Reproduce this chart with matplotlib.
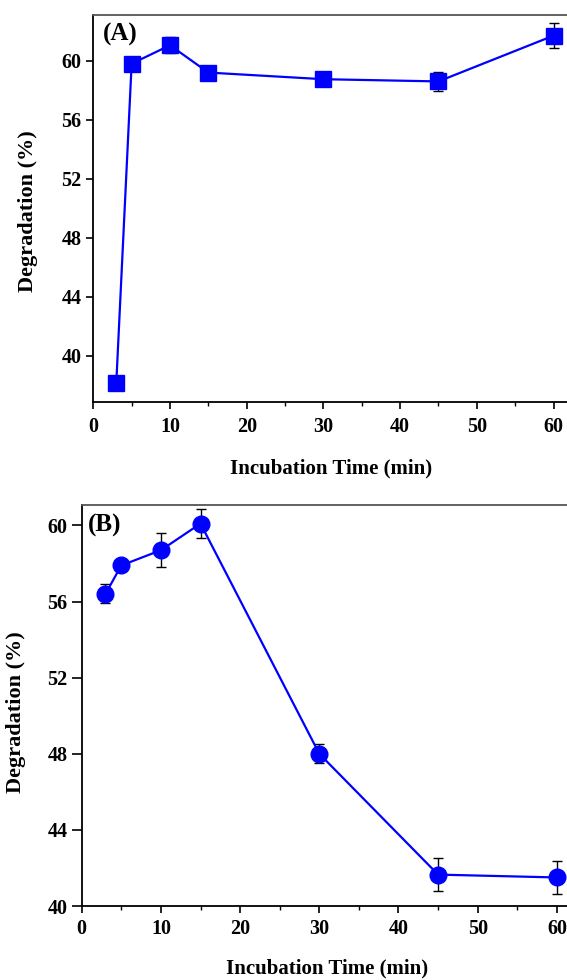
import matplotlib
matplotlib.use("Agg")
import matplotlib.pyplot as plt
from matplotlib.ticker import MultipleLocator

plt.rcParams['font.family'] = ['Liberation Serif', 'DejaVu Serif']
plt.rcParams['font.weight'] = 'bold'

time_a = [3, 5, 10, 15, 30, 45, 60]
deg_a = [38.2, 59.8, 61.05, 59.2, 58.75, 58.6, 61.7]
err_a = [0.45, 0.35, 0.55, 0.4, 0.3, 0.65, 0.85]

time_b = [3, 5, 10, 15, 30, 45, 60]
deg_b = [56.4, 57.9, 58.7, 60.1, 48.0, 41.65, 41.5]
err_b = [0.5, 0.25, 0.9, 0.75, 0.5, 0.85, 0.85]

xticks = [0, 10, 20, 30, 40, 50, 60]
yticks_a = [40, 44, 48, 52, 56, 60]
yticks_b = [40, 44, 48, 52, 56, 60]

W, H = 567, 980
fig = plt.figure(figsize=(W/100, H/100), dpi=100)

# axes rectangles in pixels (left, top, right, bottom)
a_l, a_t, a_r, a_b = 93.3, 15, 93.3 + 63*7.67, 401.7
b_l, b_t, b_r, b_b = 81.7, 505.5, 81.7 + 63*7.92, 906
ax1 = fig.add_axes([a_l/W, 1-a_b/H, (a_r-a_l)/W, (a_b-a_t)/H])
ax2 = fig.add_axes([b_l/W, 1-b_b/H, (b_r-b_l)/W, (b_b-b_t)/H])

def style(ax, label, yticks, ylim, lab_pos, ylab_pos, xlab_pos, ytlen, xpad):
    ax.set_xlim(0, 63)
    ax.set_ylim(*ylim)
    ax.set_xticks(xticks)
    ax.set_yticks(yticks)
    ax.xaxis.set_minor_locator(MultipleLocator(5))
    ax.tick_params(axis='both', which='major', direction='out', width=1.2,
                   labelsize=14.5)
    ax.tick_params(axis='x', which='major', length=5, pad=xpad)
    ax.tick_params(axis='y', which='major', length=ytlen, pad=3.4)
    ax.tick_params(axis='x', which='minor', direction='out', length=3, width=1.0)
    for lab in ax.get_xticklabels() + ax.get_yticklabels():
        lab.set_fontweight('bold')
    for s in ['left', 'bottom']:
        ax.spines[s].set_linewidth(1.3)
        ax.spines[s].set_color('black')
    ax.spines['top'].set_color('#555555')
    ax.spines['top'].set_linewidth(1.3)
    ax.spines['right'].set_visible(False)
    ax.set_xlabel('Incubation Time (min)', fontsize=15, fontweight='bold')
    ax.set_ylabel('Degradation (%)', fontsize=16, fontweight='bold')
    ax.xaxis.label.set_va('center')
    ax.yaxis.label.set_va('center')
    ax.xaxis.set_label_coords(*xlab_pos)
    ax.yaxis.set_label_coords(*ylab_pos)
    ax.text(lab_pos[0], lab_pos[1], label, transform=ax.transAxes,
            fontsize=18, fontweight='bold', va='center', ha='left')

style(ax1, '(A)', yticks_a, (36.9, 63.1),
      lab_pos=((103-a_l)/(a_r-a_l), (a_b-34)/(a_b-a_t)),
      ylab_pos=((28-a_l)/(a_r-a_l), (a_b-211.5)/(a_b-a_t)),
      xlab_pos=((331-a_l)/(a_r-a_l), (a_b-468)/(a_b-a_t)),
      ytlen=5, xpad=6)
style(ax2, '(B)', yticks_b, (40, 61.05),
      lab_pos=((88-b_l)/(b_r-b_l), (b_b-525.7)/(b_b-b_t)),
      ylab_pos=((16-b_l)/(b_r-b_l), (b_b-712)/(b_b-b_t)),
      xlab_pos=((327-b_l)/(b_r-b_l), (b_b-968)/(b_b-b_t)),
      ytlen=7, xpad=4.5)

ax1.errorbar(time_a, deg_a, yerr=err_a, color='#0000FF', marker='s', ms=11,
             lw=1.6, ecolor='black', elinewidth=1.0, capsize=3.3, capthick=1.0, zorder=3)
ax2.errorbar(time_b, deg_b, yerr=err_b, color='#0000FF', marker='o', ms=12,
             lw=1.6, ecolor='black', elinewidth=1.0, capsize=3.3, capthick=1.0, zorder=3)

fig.savefig('out.png', dpi=100)
